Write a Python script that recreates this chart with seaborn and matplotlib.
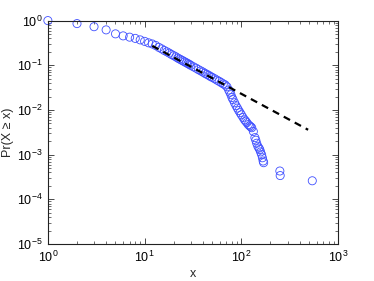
import matplotlib
matplotlib.use("Agg")
import matplotlib.pyplot as plt
import seaborn as sns
from matplotlib.ticker import LogLocator, NullFormatter

x_vals = [1, 2, 3, 4, 5, 6, 7, 8, 9, 10, 11, 12, 13, 14, 15, 16, 17, 18, 19,
          20, 21, 22, 23, 24, 25, 26, 27, 28, 29, 30, 32, 34, 36, 38, 40, 42,
          44, 46, 48, 50, 53, 56, 59, 62, 65, 68, 71, 74, 76, 78, 80, 82, 85,
          88, 91, 94, 97, 100, 104, 108, 111, 114, 118, 122, 125, 128, 133,
          138, 141, 144, 148, 152, 155, 158, 162, 165, 168, 170, 250, 252, 541]
p_vals = [1.0, 0.857, 0.73, 0.62, 0.505, 0.455, 0.426, 0.40, 0.37, 0.343,
          0.318, 0.30, 0.278, 0.252, 0.233, 0.214, 0.200, 0.187, 0.174, 0.164,
          0.155, 0.145, 0.138, 0.131, 0.125, 0.119, 0.114, 0.109, 0.1045,
          0.0996, 0.0924, 0.0862, 0.0799, 0.075, 0.0707, 0.0661, 0.0627,
          0.0595, 0.0561, 0.0535, 0.050, 0.0465, 0.0437, 0.0409, 0.0383,
          0.0364, 0.033, 0.028, 0.025, 0.022, 0.019, 0.017, 0.0145, 0.0125,
          0.011, 0.0097, 0.0087, 0.0078, 0.0068, 0.006, 0.0056, 0.0052,
          0.0047, 0.0044, 0.0042, 0.004, 0.0033, 0.0024, 0.0021, 0.0018,
          0.00154, 0.0014, 0.0013, 0.00115, 0.001, 0.00085, 0.00072, 0.00066,
          0.00043, 0.00034, 0.00026]

# power-law fit, end points
fit_x = [12, 490]
fit_p = [0.272, 0.0036]

sns.set_style("ticks")
plt.rcParams["font.family"] = ["Liberation Sans", "DejaVu Sans"]
plt.rcParams["mathtext.fontset"] = "custom"
plt.rcParams["mathtext.rm"] = "Liberation Sans"
plt.rcParams["mathtext.it"] = "Liberation Sans:italic"

fig = plt.figure(figsize=(3.74, 2.81), dpi=100)
ax = fig.add_axes([0.128, 0.1317, 0.776, 0.795])

sns.scatterplot(x=x_vals, y=p_vals, ax=ax, marker="o", s=34,
                facecolor="none", edgecolor="#3f4fff", linewidth=0.6,
                zorder=2, legend=False, clip_on=False)
sns.lineplot(x=fit_x, y=fit_p, ax=ax, color="black", linewidth=1.6,
             linestyle=(0, (3.2, 2.4)), zorder=3, legend=False)

ax.set_xscale("log")
ax.set_yscale("log")
ax.set_xlim(1, 1000)
ax.set_ylim(1e-5, 1)
ax.set_xticks([1, 10, 100, 1000])
ax.set_yticks([1e-5, 1e-4, 1e-3, 1e-2, 1e-1, 1])
ax.xaxis.set_minor_locator(LogLocator(base=10, subs=range(2, 10), numticks=20))
ax.yaxis.set_minor_locator(LogLocator(base=10, subs=range(2, 10), numticks=20))
ax.xaxis.set_minor_formatter(NullFormatter())
ax.yaxis.set_minor_formatter(NullFormatter())

ax.tick_params(which="both", direction="in", top=True, right=True,
               labelsize=9, colors="black")
ax.tick_params(which="major", length=4, width=0.5, pad=4)
ax.tick_params(which="minor", length=2, width=0.4)
for sp in ax.spines.values():
    sp.set_color("#222222")
    sp.set_linewidth(0.8)

ax.set_xlabel("x", fontsize=9, labelpad=2)
ax.set_ylabel("Pr(X ≥ x)", fontsize=9, labelpad=2)

fig.savefig("out.png", dpi=100)
plt.close(fig)
